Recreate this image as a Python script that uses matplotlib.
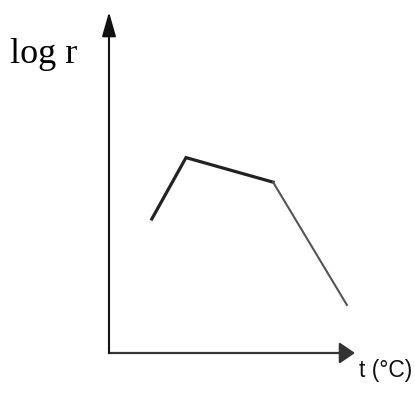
import matplotlib.pyplot as plt

# temperature (arbitrary units along the axis) and log r
t_vals = [1.74, 3.13, 6.67, 9.67]
log_r = [3.93, 5.73, 5.01, 1.41]

fig = plt.figure(figsize=(4.15, 3.94), dpi=100)
# axes box: origin at pixel (109, 353), x-arrow tip at 355, y-arrow tip at 12
ax = fig.add_axes([109 / 415, (394 - 353) / 394, (355 - 109) / 415, (353 - 12) / 394])
ax.set_xlim(0, 10)
ax.set_ylim(0, 10)
ax.axis('off')

# axes with arrow heads
ax.annotate('', xy=(1, 0), xytext=(0, 0), xycoords='axes fraction',
            arrowprops=dict(arrowstyle='-|>,head_length=0.95,head_width=0.65',
                            mutation_scale=10, color='#333333', lw=1.6,
                            shrinkA=0, shrinkB=0))
ax.annotate('', xy=(0, 1), xytext=(0, 0), xycoords='axes fraction',
            arrowprops=dict(arrowstyle='-|>,head_length=1.5,head_width=0.43',
                            mutation_scale=10, color='#111111', lw=1.4,
                            shrinkA=0, shrinkB=0))
# y-axis line itself is lighter grey
ax.plot([0, 0], [0, 0.94], color='#999999', lw=1.6, transform=ax.transAxes, clip_on=False)

# curve: first two segments dark and thick, last one thinner
ax.plot(t_vals[:3], log_r[:3], color='#222222', lw=2.3, solid_joinstyle='miter')
ax.plot(t_vals[2:], log_r[2:], color='#555555', lw=1.5)

fig.text(10 / 415, 1 - 63 / 394, 'log r', family='Liberation Serif', fontsize=26,
         va='baseline', ha='left')
fig.text(359 / 415, 1 - 377 / 394, 't (°C)', family='Liberation Sans', fontsize=16.5,
         va='baseline', ha='left', color='#111111')

fig.savefig('out.png', dpi=100)
